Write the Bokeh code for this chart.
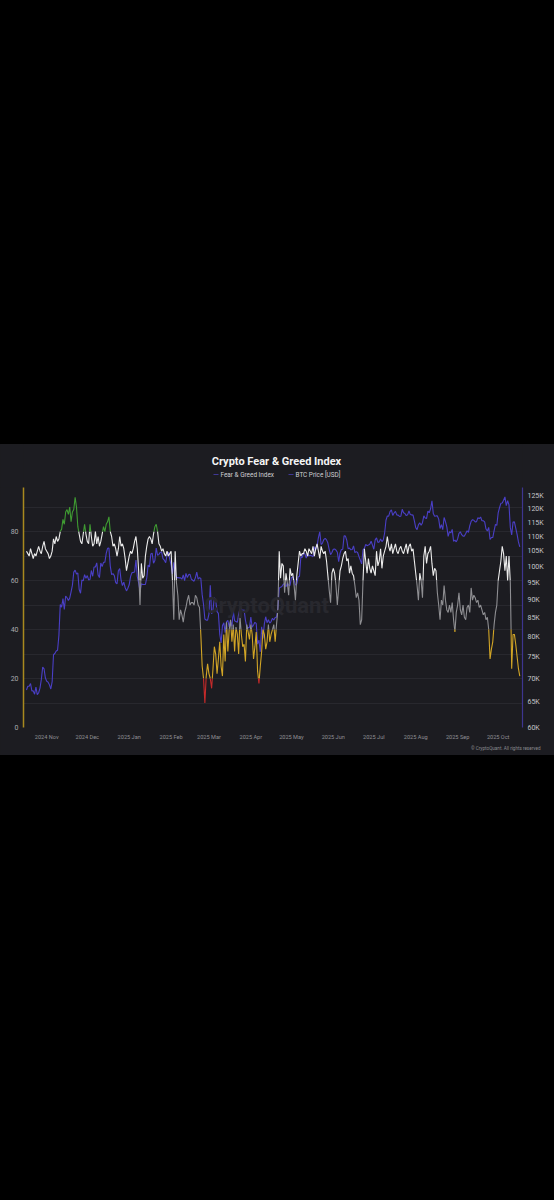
import numpy as np
import pandas as pd
from bokeh.plotting import figure
from bokeh.models import (Range1d, LogAxis, LogScale, FixedTicker, MonthsTicker,
                          DatetimeTickFormatter, Label, Title, ColumnDataSource, Spacer)
from bokeh.core.properties import value
from bokeh.layouts import column
from bokeh.embed import file_html
from bokeh.resources import INLINE

# ---------------- data (daily, 2024-10-17 .. 2025-10-17) ----------------
start_date = "2024-10-17"

fear_greed = (
    [72, 71, 70, 73, 71, 69, 71, 70, 72, 74, 72, 71, 74, 76, 73] +                      # Oct 17-31
    [72, 71, 69, 70, 72, 77, 75, 78, 76, 77, 80, 81, 85, 83, 88, 89, 87, 90, 84, 88,
     89, 94, 90, 82, 79, 76, 75, 79, 83, 79] +                                            # Nov
    [76, 75, 83, 78, 74, 75, 80, 75, 78, 74, 76, 79, 82, 80, 83, 84, 86, 80, 78, 74,
     75, 73, 70, 73, 78, 74, 75, 73, 69, 64, 67] +                                        # Dec
    [70, 72, 71, 73, 76, 78, 73, 64, 50, 67, 61, 62, 70, 74, 77, 78, 77, 75, 79, 82,
     83, 80, 75, 74, 72, 73, 71, 70, 72, 70, 71] +                                        # Jan
    [72, 60, 44, 72, 59, 54, 44, 48, 46, 43, 47, 49, 52, 54, 50, 51, 51, 50, 54, 53,
     50, 49, 38, 25, 20, 10, 21, 26] +                                                    # Feb
    [22, 20, 16, 24, 33, 30, 22, 28, 35, 25, 21, 38, 27, 43, 31, 40, 44, 35, 42, 31,
     41, 38, 30, 45, 38, 33, 34, 27, 42, 39, 36] +                                        # Mar
    [42, 38, 28, 33, 39, 23, 18, 25, 31, 40, 38, 32, 35, 42, 35, 38, 40, 42, 35, 42,
     48, 72, 61, 67, 66, 55, 63, 59, 54, 65] +                                            # Apr
    [62, 63, 58, 52, 62, 67, 72, 70, 71, 71, 73, 72, 70, 73, 72, 71, 74, 70, 73, 75,
     72, 69, 74, 72, 71, 72, 68, 62, 56, 51, 63] +                                        # May
    [65, 63, 58, 50, 57, 64, 66, 69, 71, 72, 68, 69, 63, 66, 63, 62, 58, 53, 55, 52,
     42, 44, 60, 73, 68, 63, 69, 65, 63, 66] +                                            # Jun
    [64, 62, 72, 66, 68, 73, 65, 70, 72, 74, 78, 74, 72, 75, 71, 73, 75, 72, 71, 73,
     74, 72, 71, 73, 75, 71, 74, 75, 72, 73, 68] +                                        # Jul
    [63, 58, 52, 63, 60, 53, 70, 74, 67, 71, 72, 74, 67, 62, 65, 64, 55, 50, 44, 52,
     50, 58, 52, 48, 47, 50, 47, 51, 44, 39, 47] +                                        # Aug
    [50, 55, 48, 46, 50, 45, 44, 49, 50, 47, 57, 52, 54, 53, 51, 52, 49, 50, 48, 46,
     47, 44, 45, 40, 28, 32, 35, 42, 47, 50] +                                            # Sep
    [60, 64, 68, 74, 71, 64, 70, 60, 70, 59, 24, 38, 38, 34, 29, 24, 21]                  # Oct 1-17
)

btc_price_k = (
    [67.6, 68.4, 68.4, 69.0, 67.4, 67.4, 66.7, 68.2, 66.6, 67.0, 68.0, 69.9, 72.7, 72.3, 70.2] +
    [69.5, 69.3, 68.7, 67.8, 69.4, 75.6, 75.9, 76.5, 76.7, 80.4, 88.7, 87.9, 90.4, 87.3, 91.1,
     90.6, 89.8, 90.5, 92.3, 94.3, 98.3, 98.9, 97.7, 98.0, 93.0, 91.9, 95.9, 95.6, 97.5, 96.4] +
    [97.2, 95.9, 96.0, 98.8, 97.0, 99.9, 99.9, 101.2, 97.4, 96.6, 101.2, 100.0, 101.4, 101.4,
     104.3, 106.0, 106.1, 100.2, 97.5, 97.8, 97.2, 95.1, 94.7, 98.7, 99.4, 95.8, 94.2, 95.2,
     93.6, 92.6, 93.4] +
    [94.4, 96.9, 98.1, 98.2, 98.3, 102.1, 96.9, 95.0, 92.5, 94.7, 94.5, 94.5, 94.5, 96.5,
     100.5, 99.9, 104.1, 104.4, 101.1, 102.0, 106.1, 103.7, 104.0, 104.7, 104.7, 102.6,
     102.1, 101.3, 103.7, 104.7, 102.4] +
    [100.6, 97.7, 101.4, 97.9, 96.6, 96.6, 96.5, 96.5, 96.1, 97.4, 95.7, 97.9, 96.6, 97.5,
     97.6, 96.1, 95.8, 95.5, 96.6, 98.3, 96.1, 96.6, 96.3, 91.5, 88.7, 84.7, 84.4, 84.4] +
    [86.0, 94.3, 86.1, 87.2, 90.6, 89.9, 86.7, 86.2, 80.7, 78.5, 82.9, 83.7, 81.1, 83.9,
     84.3, 82.6, 84.1, 82.7, 86.9, 84.2, 84.0, 83.8, 86.1, 87.5, 87.4, 86.9, 87.2, 84.4,
     82.6, 82.3, 82.5] +
    [85.2, 82.5, 83.1, 83.8, 83.5, 78.2, 79.2, 76.3, 82.6, 79.6, 83.4, 85.3, 83.7, 84.5,
     83.6, 84.0, 84.9, 84.4, 85.1, 85.2, 87.5, 93.4, 93.7, 93.9, 94.6, 94.6, 93.8, 94.9,
     94.3, 94.2] +
    [96.5, 96.9, 95.9, 94.3, 94.7, 96.8, 97.0, 103.2, 102.9, 104.6, 104.1, 102.8, 104.2,
     103.5, 103.7, 103.5, 103.2, 106.5, 105.6, 106.8, 109.7, 111.7, 107.3, 107.8, 109.0,
     109.4, 108.9, 107.8, 105.6, 103.9, 104.6] +
    [105.7, 105.8, 105.4, 104.7, 101.6, 104.4, 105.6, 105.7, 110.3, 110.2, 108.7, 105.9,
     106.1, 105.5, 105.6, 106.8, 104.6, 104.9, 104.6, 103.3, 102.1, 100.9, 105.5, 106.0,
     107.3, 106.9, 107.1, 107.4, 108.4, 107.1] +
    [105.7, 108.9, 109.6, 108.0, 108.2, 109.2, 108.3, 108.9, 111.3, 115.9, 117.5, 117.4,
     119.1, 119.8, 117.7, 118.6, 119.2, 117.9, 117.8, 117.3, 117.4, 120.0, 118.7, 118.4,
     117.6, 117.9, 119.4, 118.0, 117.9, 117.8, 115.7] +
    [113.2, 112.5, 114.2, 115.0, 114.1, 115.0, 117.5, 116.7, 116.5, 119.3, 118.7, 120.2,
     123.3, 118.4, 117.4, 117.5, 117.5, 116.3, 112.9, 114.3, 112.5, 116.9, 115.4, 113.5,
     110.1, 111.8, 111.3, 112.6, 108.4, 108.8, 108.2] +
    [109.2, 111.2, 111.7, 110.7, 110.2, 110.2, 111.1, 112.1, 111.5, 113.9, 115.5, 116.1,
     115.9, 115.3, 115.4, 116.8, 116.5, 117.1, 115.7, 115.7, 115.3, 112.7, 112.0, 113.3,
     109.0, 109.7, 109.7, 112.1, 114.4, 114.0] +
    [118.6, 120.6, 122.3, 122.4, 123.5, 124.8, 121.4, 123.3, 121.7, 113.2, 110.6, 115.2,
     115.3, 113.0, 110.8, 108.2, 106.5]
)

fg_ticks = [0, 20, 40, 60, 80]
fg_grid = [10, 20, 30, 40, 50, 60, 70, 80, 90]
price_ticks = [60000, 65000, 70000, 75000, 80000, 85000, 90000, 95000, 100000,
               105000, 110000, 115000, 120000, 125000]
price_tick_labels = ["60K", "65K", "70K", "75K", "80K", "85K", "90K", "95K", "100K",
                     "105K", "110K", "115K", "120K", "125K"]
band_edges = [20, 40, 60, 80]
band_colors = ["#c62a2a", "#d2a526", "#8e8e92", "#ececec", "#3f9b32"]
title_text = "Crypto Fear & Greed Index"
legend_labels = ["Fear & Greed Index", "BTC Price [USD]"]
footer_text = "\u00a9 CryptoQuant. All rights reserved"

# ---------------- styling ----------------
BG = "#1c1c21"
FONT = "Roboto"
BTC_COLOR = "#4a3fc6"
LEG_COLOR = "#3f3796"
W = 554
BL, BR = 23, 32          # left / right borders (frame spans x = 23 .. 522)

dates = pd.date_range(start_date, periods=len(fear_greed), freq="D")
t_ms = dates.values.astype("datetime64[ms]").astype("int64").astype(float)
fg = np.array(fear_greed, dtype=float)
btc = np.array(btc_price_k, dtype=float) * 1000.0


def band_of(v):
    for i, e in enumerate(band_edges):
        if v < e:
            return i
    return len(band_edges)


# split the F&G line where it crosses band edges, then merge runs of one colour
pieces = []
for i in range(len(fg) - 1):
    t0, t1, v0, v1 = t_ms[i], t_ms[i + 1], fg[i], fg[i + 1]
    pts = [(t0, v0)]
    lo, hi = min(v0, v1), max(v0, v1)
    cr = [c for c in band_edges if lo < c < hi]
    if v1 < v0:
        cr = cr[::-1]
    for c in cr:
        f = (c - v0) / (v1 - v0)
        pts.append((t0 + f * (t1 - t0), c))
    pts.append((t1, v1))
    for a, b in zip(pts[:-1], pts[1:]):
        pieces.append((a, b, band_of((a[1] + b[1]) / 2.0)))

xs, ys, cs = [], [], []
cur_x, cur_y, cur_b = None, None, None
for a, b, bnd in pieces:
    if cur_b == bnd:
        cur_x.append(b[0]); cur_y.append(b[1])
    else:
        if cur_b is not None:
            xs.append(cur_x); ys.append(cur_y); cs.append(band_colors[cur_b])
        cur_x, cur_y, cur_b = [a[0], b[0]], [a[1], b[1]], bnd
xs.append(cur_x); ys.append(cur_y); cs.append(band_colors[cur_b])

x_start = t_ms[0] - 2.2 * 86400000
x_end = t_ms[-1] + 2.0 * 86400000

# ---------------- header: title + legend (x in page pixels) ----------------
head = figure(width=W, height=43, x_range=Range1d(BL, W - BR), y_range=Range1d(0, 43),
              x_axis_location=None, y_axis_location=None, output_backend="svg",
              toolbar_location=None, min_border_left=BL, min_border_right=BR,
              min_border_top=0, min_border_bottom=0, background_fill_color=BG,
              border_fill_color=BG, outline_line_color=None)
head.grid.visible = False
head.text(x=[276], y=[26], text=[title_text], text_align="center", text_baseline="middle",
          text_font=value(FONT), text_font_size="11px", text_font_style="bold",
          text_color="#f4f4f4")
leg_x = [220, 295]
head.segment(x0=[x - 7 for x in leg_x], y0=[13, 13], x1=[x - 2 for x in leg_x], y1=[13, 13],
             line_color=LEG_COLOR, line_width=1.2)
head.text(x=leg_x, y=[13, 13], text=legend_labels, text_align="left", text_baseline="middle",
          text_font=value(FONT), text_font_size="6.4px", text_color="#cfcfd3")

# ---------------- main chart ----------------
p = figure(width=W, height=268, x_axis_type="datetime",
           x_range=Range1d(x_start, x_end), y_range=Range1d(0, 98),
           output_backend="svg", toolbar_location=None,
           min_border_left=BL, min_border_right=BR, min_border_top=0, min_border_bottom=28,
           background_fill_color=BG, border_fill_color=BG, outline_line_color=None)

p.extra_y_ranges = {"btc": Range1d(60000, 128600)}
p.extra_y_scales = {"btc": LogScale()}

p.xgrid.visible = False
p.ygrid.ticker = FixedTicker(ticks=fg_grid)
p.ygrid.grid_line_color = "#28282e"
p.ygrid.grid_line_width = 1

ya = p.yaxis[0]
ya.ticker = FixedTicker(ticks=fg_ticks)
ya.axis_line_color = "#a8891f"
ya.axis_line_width = 1.5
ya.major_tick_line_color = None
ya.minor_tick_line_color = None
ya.major_tick_out = 0
ya.major_tick_in = 0
ya.major_label_text_color = "#a9a9ad"
ya.major_label_text_font = FONT
ya.major_label_text_font_size = "7px"
ya.major_label_standoff = 5

ra = LogAxis(y_range_name="btc", ticker=FixedTicker(ticks=price_ticks),
             major_label_overrides={float(v): s for v, s in zip(price_ticks, price_tick_labels)})
ra.axis_line_color = "#3d3590"
ra.axis_line_width = 1.2
ra.major_tick_line_color = None
ra.minor_tick_line_color = None
ra.major_tick_out = 0
ra.major_tick_in = 0
ra.major_label_text_color = "#c4c4c8"
ra.major_label_text_font = FONT
ra.major_label_text_font_size = "7px"
ra.major_label_standoff = 5
p.add_layout(ra, "right")

xa = p.xaxis[0]
xa.ticker = MonthsTicker(months=list(range(12)))
xa.formatter = DatetimeTickFormatter(months="%Y %b", days="%Y %b", years="%Y %b")
xa.axis_line_color = None
xa.major_tick_line_color = None
xa.minor_tick_line_color = None
xa.major_tick_out = 0
xa.major_tick_in = 0
xa.major_label_text_color = "#8f8f94"
xa.major_label_text_font = FONT
xa.major_label_text_font_size = "5.6px"
xa.major_label_standoff = 6

p.add_layout(Title(text=footer_text, align="right", offset=-18, standoff=2,
                   text_font=FONT, text_font_size="4.6px", text_font_style="normal",
                   text_color="#8a8a8f"), "below")

p.add_layout(Label(x=243, y=122, x_units="screen", y_units="screen", text="CryptoQuant",
                   text_align="center", text_baseline="middle", text_font=FONT,
                   text_font_size="22px", text_font_style="bold", text_color="#28282e"))

src = ColumnDataSource(dict(t=t_ms, btc=btc))
p.line(x="t", y="btc", source=src, y_range_name="btc", line_color=BTC_COLOR, line_width=1.1)
p.multi_line(xs="xs", ys="ys", line_color="cs", line_width=1.1,
             source=ColumnDataSource(dict(xs=xs, ys=ys, cs=cs)))

panel = column(head, p, spacing=0, styles={"background-color": BG})
layout = column(Spacer(width=W, height=444), panel, spacing=0)

html = file_html(layout, INLINE, title=title_text)
html = html.replace("<head>", "<head><style>html,body{margin:0;padding:0;background:#000000;}</style>", 1)
open("out.html", "w").write(html)
